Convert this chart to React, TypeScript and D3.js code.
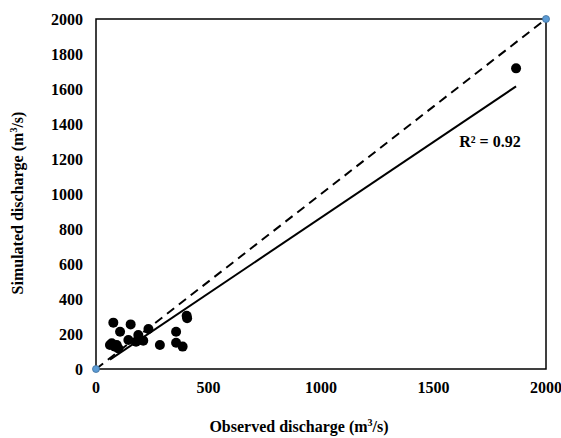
import React from 'react';
import * as d3 from 'd3';

const observed = [77, 107, 154, 233, 188, 144, 178, 210, 70, 84, 62, 92, 99, 284, 356, 356, 385, 403, 405, 1867];
const simulated = [265, 213, 255, 229, 194, 166, 156, 162, 147, 128, 137, 137, 118, 137, 213, 150, 128, 304, 290, 1718];
const xTicks = [0, 500, 1000, 1500, 2000];
const yTicks = [0, 200, 400, 600, 800, 1000, 1200, 1400, 1600, 1800, 2000];
const trendSlope = 0.865;
const trendIntercept = 0;
const r2Label = 'R² = 0.92';

export default function App() {
  const width = 561;
  const height = 438;
  const margin = { top: 19, right: 15, bottom: 69, left: 96 };
  const font = '"Liberation Serif", "Times New Roman", serif';

  const x = d3.scaleLinear().domain([0, 2000]).range([margin.left, width - margin.right]);
  const y = d3.scaleLinear().domain([0, 2000]).range([height - margin.bottom, margin.top]);

  const xMin = d3.min(observed) as number;
  const xMax = d3.max(observed) as number;
  const trend = d3.line<number>()
    .x(d => x(d))
    .y(d => y(trendSlope * d + trendIntercept));
  const identity = d3.line<number>()
    .x(d => x(d))
    .y(d => y(d));

  return (
    <svg width={width} height={height} style={{ position: 'absolute', left: 0, top: 0 }}
      fontFamily={font} fontWeight="bold">
      <rect x={x(0)} y={y(2000)} width={x(2000) - x(0)} height={y(0) - y(2000)}
        fill="none" stroke="#000" strokeWidth={1.5} />
      {yTicks.map(t => (
        <text key={'y' + t} x={x(0) - 13} y={y(t)} dy="0.35em" textAnchor="end" fontSize={16}>{t}</text>
      ))}
      {xTicks.map(t => (
        <text key={'x' + t} x={x(t)} y={y(0) + 24} textAnchor="middle" fontSize={16}>{t}</text>
      ))}
      <path d={identity([0, 2000]) as string}
        fill="none" stroke="#000" strokeWidth={2} strokeDasharray="9,6" />
      <path d={trend([xMin, xMax]) as string} fill="none" stroke="#000" strokeWidth={2} />
      {observed.map((o, i) => (
        <circle key={i} cx={x(o)} cy={y(simulated[i])} r={5} fill="#000" />
      ))}
      {[0, 2000].map(v => (
        <circle key={'e' + v} cx={x(v)} cy={y(v)} r={3.5} fill="#5B9BD5" stroke="#41719C" strokeWidth={0.8} />
      ))}
      <text x={490} y={147} textAnchor="middle" fontSize={16}>{r2Label}</text>
      <text x={299} y={432} textAnchor="middle" fontSize={16}>
        Observed discharge (m<tspan dy="-6" fontSize={10}>3</tspan><tspan dy="6">/s)</tspan>
      </text>
      <text transform={`translate(23,203) rotate(-90)`} textAnchor="middle" fontSize={16}>
        Simulated discharge (m<tspan dy="-6" fontSize={10}>3</tspan><tspan dy="6">/s)</tspan>
      </text>
    </svg>
  );
}
